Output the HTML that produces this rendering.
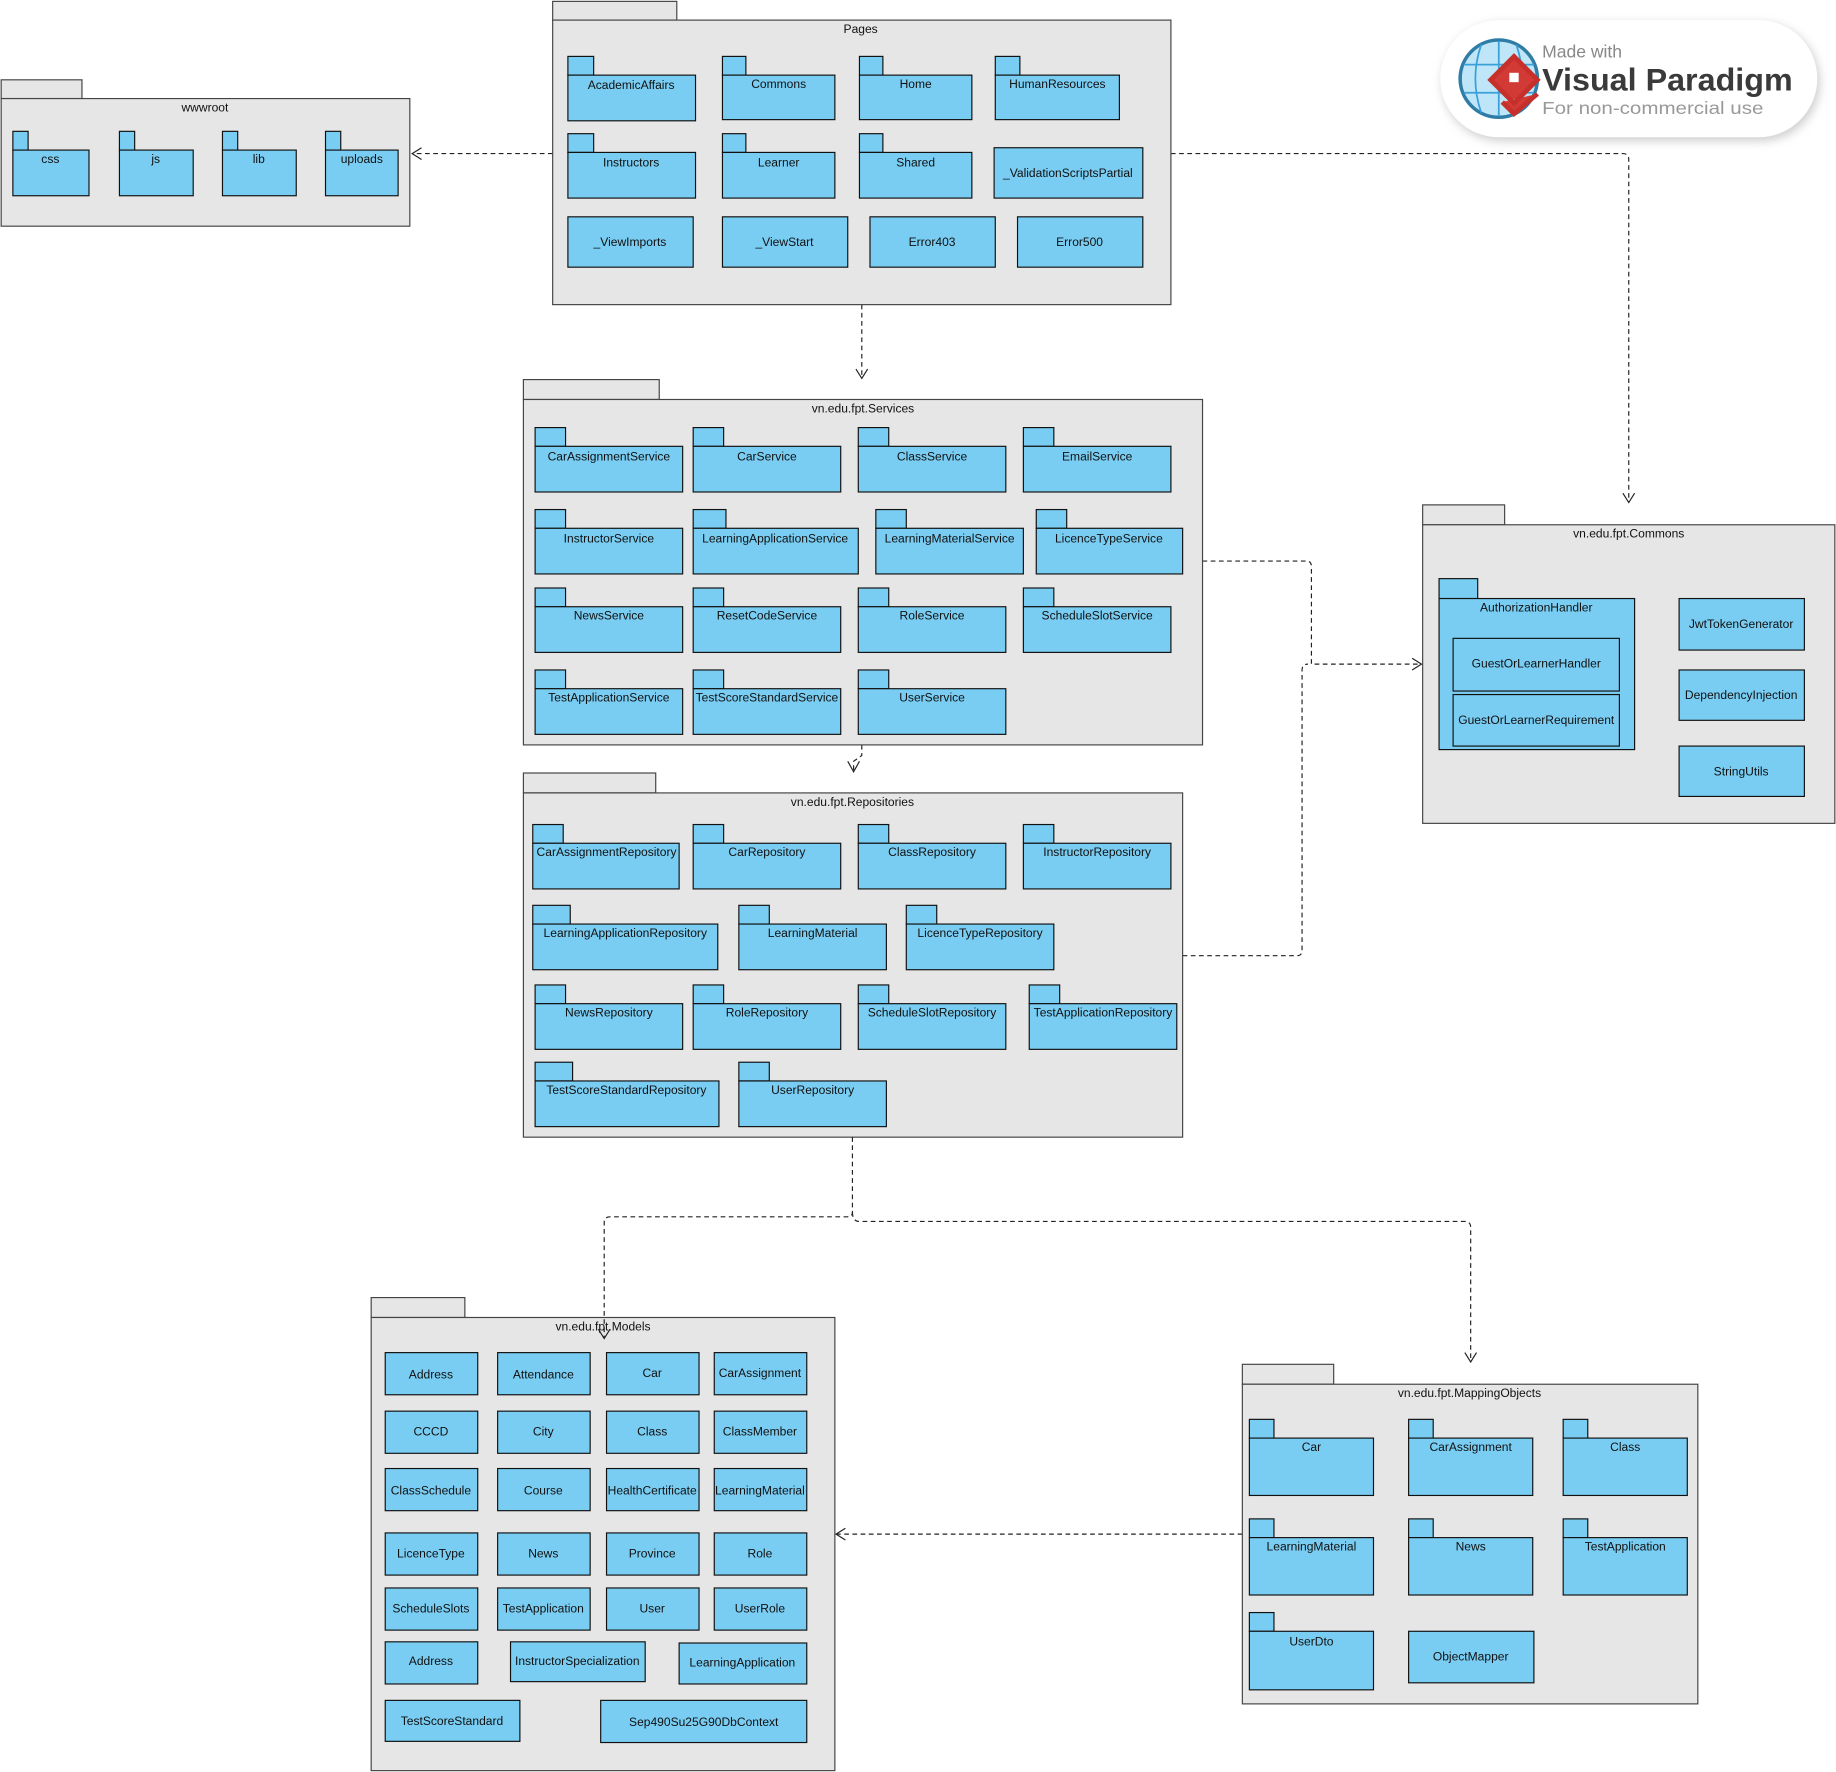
<!DOCTYPE html>
<html><head><meta charset="utf-8"><style>
html,body{margin:0;padding:0;background:#fff;}
svg{display:block;}
text{font-family:"Liberation Sans",Arial,sans-serif;font-size:10.3px;fill:#111;text-anchor:middle;}
.p{fill:#e6e6e6;stroke:#444;stroke-width:1;}
.b{fill:#79cdf2;stroke:#111;stroke-width:1;}
.d{fill:none;stroke:#222;stroke-width:1;stroke-dasharray:4,3;}
.a{fill:none;stroke:#222;stroke-width:1;}
</style></head><body>
<svg width="1836" height="1772" viewBox="0 0 1568 1513" xmlns="http://www.w3.org/2000/svg">

<!-- connectors -->
<path class="d" d="M472,131 H352"/><path class="a" d="M360,126 L352,131 L360,136"/>
<path class="d" d="M1000,131 H1386 Q1391,131 1391,136 V429"/><path class="a" d="M1386,421 L1391,429 L1396,421"/>
<path class="d" d="M736,260 V323"/><path class="a" d="M731,315 L736,323 L741,315"/>
<path class="d" d="M736,636 V645 L729,650 V659"/><path class="a" d="M724,650 L729,659 L734,650"/>
<path class="d" d="M1027,479 H1116 Q1120,479 1120,484 V567 H1214"/>
<path class="d" d="M1010,816 H1108 Q1112,816 1112,811 V572 Q1112,567 1117,567"/>
<path class="a" d="M1206,562 L1214,567 L1206,572"/>
<path class="d" d="M728,1035 Q728,1043 734,1043 H1251 Q1256,1043 1256,1048 V1163"/><path class="a" d="M1251,1155 L1256,1163 L1261,1155"/>
<path class="d" d="M1061,1310 H714"/><path class="a" d="M722,1305 L714,1310 L722,1315"/>

<!-- wwwroot -->
<rect class="p" x="1" y="68" width="69" height="16"/><rect class="p" x="1" y="84" width="349" height="109"/>
<text x="175" y="95">wwwroot</text>
<rect class="b" x="11" y="112" width="13" height="16"/><rect class="b" x="11" y="128" width="65" height="39"/><text x="43" y="139">css</text>
<rect class="b" x="102" y="112" width="13" height="16"/><rect class="b" x="102" y="128" width="63" height="39"/><text x="133" y="139">js</text>
<rect class="b" x="190" y="112" width="13" height="16"/><rect class="b" x="190" y="128" width="63" height="39"/><text x="221" y="139">lib</text>
<rect class="b" x="278" y="112" width="13" height="16"/><rect class="b" x="278" y="128" width="62" height="39"/><text x="309" y="139">uploads</text>

<!-- Pages -->
<rect class="p" x="472" y="1" width="106" height="16"/><rect class="p" x="472" y="17" width="528" height="243"/>
<text x="735" y="28">Pages</text>
<rect class="b" x="485" y="48" width="22" height="16"/><rect class="b" x="485" y="64" width="109" height="39"/><text x="539" y="76">AcademicAffairs</text>
<rect class="b" x="617" y="48" width="20" height="16"/><rect class="b" x="617" y="64" width="96" height="38"/><text x="665" y="75">Commons</text>
<rect class="b" x="734" y="48" width="20" height="16"/><rect class="b" x="734" y="64" width="96" height="38"/><text x="782" y="75">Home</text>
<rect class="b" x="850" y="48" width="21" height="16"/><rect class="b" x="850" y="64" width="106" height="38"/><text x="903" y="75">HumanResources</text>
<rect class="b" x="485" y="114" width="22" height="16"/><rect class="b" x="485" y="130" width="109" height="39"/><text x="539" y="142">Instructors</text>
<rect class="b" x="617" y="114" width="20" height="16"/><rect class="b" x="617" y="130" width="96" height="39"/><text x="665" y="142">Learner</text>
<rect class="b" x="734" y="114" width="20" height="16"/><rect class="b" x="734" y="130" width="96" height="39"/><text x="782" y="142">Shared</text>
<rect class="b" x="849" y="126" width="127" height="43"/><text x="912" y="151">_ValidationScriptsPartial</text>
<rect class="b" x="485" y="185" width="107" height="43"/><text x="538" y="210">_ViewImports</text>
<rect class="b" x="617" y="185" width="107" height="43"/><text x="670" y="210">_ViewStart</text>
<rect class="b" x="743" y="185" width="107" height="43"/><text x="796" y="210">Error403</text>
<rect class="b" x="869" y="185" width="107" height="43"/><text x="922" y="210">Error500</text>

<!-- Services -->
<rect class="p" x="447" y="324" width="116" height="17"/><rect class="p" x="447" y="341" width="580" height="295"/>
<text x="737" y="352">vn.edu.fpt.Services</text>
<g>
<rect class="b" x="457" y="365" width="26" height="16"/><rect class="b" x="457" y="381" width="126" height="39"/><text x="520" y="393">CarAssignmentService</text>
<rect class="b" x="592" y="365" width="26" height="16"/><rect class="b" x="592" y="381" width="126" height="39"/><text x="655" y="393">CarService</text>
<rect class="b" x="733" y="365" width="26" height="16"/><rect class="b" x="733" y="381" width="126" height="39"/><text x="796" y="393">ClassService</text>
<rect class="b" x="874" y="365" width="26" height="16"/><rect class="b" x="874" y="381" width="126" height="39"/><text x="937" y="393">EmailService</text>
<rect class="b" x="457" y="435" width="26" height="16"/><rect class="b" x="457" y="451" width="126" height="39"/><text x="520" y="463">InstructorService</text>
<rect class="b" x="592" y="435" width="28" height="16"/><rect class="b" x="592" y="451" width="141" height="39"/><text x="662" y="463">LearningApplicationService</text>
<rect class="b" x="748" y="435" width="26" height="16"/><rect class="b" x="748" y="451" width="126" height="39"/><text x="811" y="463">LearningMaterialService</text>
<rect class="b" x="885" y="435" width="26" height="16"/><rect class="b" x="885" y="451" width="125" height="39"/><text x="947" y="463">LicenceTypeService</text>
<rect class="b" x="457" y="502" width="26" height="16"/><rect class="b" x="457" y="518" width="126" height="39"/><text x="520" y="529">NewsService</text>
<rect class="b" x="592" y="502" width="26" height="16"/><rect class="b" x="592" y="518" width="126" height="39"/><text x="655" y="529">ResetCodeService</text>
<rect class="b" x="733" y="502" width="26" height="16"/><rect class="b" x="733" y="518" width="126" height="39"/><text x="796" y="529">RoleService</text>
<rect class="b" x="874" y="502" width="26" height="16"/><rect class="b" x="874" y="518" width="126" height="39"/><text x="937" y="529">ScheduleSlotService</text>
<rect class="b" x="457" y="572" width="26" height="16"/><rect class="b" x="457" y="588" width="126" height="39"/><text x="520" y="599">TestApplicationService</text>
<rect class="b" x="592" y="572" width="26" height="16"/><rect class="b" x="592" y="588" width="126" height="39"/><text x="655" y="599">TestScoreStandardService</text>
<rect class="b" x="733" y="572" width="26" height="16"/><rect class="b" x="733" y="588" width="126" height="39"/><text x="796" y="599">UserService</text>
</g>

<!-- Repositories -->
<rect class="p" x="447" y="660" width="113" height="17"/><rect class="p" x="447" y="677" width="563" height="294"/>
<text x="728" y="688">vn.edu.fpt.Repositories</text>
<rect class="b" x="455" y="704" width="26" height="16"/><rect class="b" x="455" y="720" width="125" height="39"/><text x="518" y="731">CarAssignmentRepository</text>
<rect class="b" x="592" y="704" width="26" height="16"/><rect class="b" x="592" y="720" width="126" height="39"/><text x="655" y="731">CarRepository</text>
<rect class="b" x="733" y="704" width="26" height="16"/><rect class="b" x="733" y="720" width="126" height="39"/><text x="796" y="731">ClassRepository</text>
<rect class="b" x="874" y="704" width="26" height="16"/><rect class="b" x="874" y="720" width="126" height="39"/><text x="937" y="731">InstructorRepository</text>
<rect class="b" x="455" y="773" width="32" height="16"/><rect class="b" x="455" y="789" width="158" height="39"/><text x="534" y="800">LearningApplicationRepository</text>
<rect class="b" x="631" y="773" width="26" height="16"/><rect class="b" x="631" y="789" width="126" height="39"/><text x="694" y="800">LearningMaterial</text>
<rect class="b" x="774" y="773" width="26" height="16"/><rect class="b" x="774" y="789" width="126" height="39"/><text x="837" y="800">LicenceTypeRepository</text>
<rect class="b" x="457" y="841" width="26" height="16"/><rect class="b" x="457" y="857" width="126" height="39"/><text x="520" y="868">NewsRepository</text>
<rect class="b" x="592" y="841" width="26" height="16"/><rect class="b" x="592" y="857" width="126" height="39"/><text x="655" y="868">RoleRepository</text>
<rect class="b" x="733" y="841" width="26" height="16"/><rect class="b" x="733" y="857" width="126" height="39"/><text x="796" y="868">ScheduleSlotRepository</text>
<rect class="b" x="879" y="841" width="26" height="16"/><rect class="b" x="879" y="857" width="126" height="39"/><text x="942" y="868">TestApplicationRepository</text>
<rect class="b" x="457" y="907" width="32" height="16"/><rect class="b" x="457" y="923" width="157" height="39"/><text x="535" y="934">TestScoreStandardRepository</text>
<rect class="b" x="631" y="907" width="26" height="16"/><rect class="b" x="631" y="923" width="126" height="39"/><text x="694" y="934">UserRepository</text>

<!-- Commons -->
<rect class="p" x="1215" y="431" width="70" height="17"/><rect class="p" x="1215" y="448" width="352" height="255"/>
<text x="1391" y="459">vn.edu.fpt.Commons</text>
<rect class="b" x="1229" y="494" width="33" height="17"/><rect class="b" x="1229" y="511" width="167" height="129"/><text x="1312" y="522">AuthorizationHandler</text>
<rect class="b" x="1241" y="545" width="142" height="45"/><text x="1312" y="570">GuestOrLearnerHandler</text>
<rect class="b" x="1241" y="593" width="142" height="44"/><text x="1312" y="618">GuestOrLearnerRequirement</text>
<rect class="b" x="1434" y="511" width="107" height="44"/><text x="1487" y="536">JwtTokenGenerator</text>
<rect class="b" x="1434" y="572" width="107" height="43"/><text x="1487" y="597">DependencyInjection</text>
<rect class="b" x="1434" y="637" width="107" height="43"/><text x="1487" y="662">StringUtils</text>

<!-- Models -->
<rect class="p" x="317" y="1108" width="80" height="17"/><rect class="p" x="317" y="1125" width="396" height="387"/>
<text x="515" y="1136">vn.edu.fpt.Models</text>
<g>
<rect class="b" x="329" y="1155" width="79" height="36"/><text x="368" y="1177">Address</text>
<rect class="b" x="425" y="1155" width="79" height="36"/><text x="464" y="1177">Attendance</text>
<rect class="b" x="518" y="1155" width="79" height="36"/><text x="557" y="1176">Car</text>
<rect class="b" x="610" y="1155" width="79" height="36"/><text x="649" y="1176">CarAssignment</text>
<rect class="b" x="329" y="1205" width="79" height="36"/><text x="368" y="1226">CCCD</text>
<rect class="b" x="425" y="1205" width="79" height="36"/><text x="464" y="1226">City</text>
<rect class="b" x="518" y="1205" width="79" height="36"/><text x="557" y="1226">Class</text>
<rect class="b" x="610" y="1205" width="79" height="36"/><text x="649" y="1226">ClassMember</text>
<rect class="b" x="329" y="1254" width="79" height="36"/><text x="368" y="1276">ClassSchedule</text>
<rect class="b" x="425" y="1254" width="79" height="36"/><text x="464" y="1276">Course</text>
<rect class="b" x="518" y="1254" width="79" height="36"/><text x="557" y="1276">HealthCertificate</text>
<rect class="b" x="610" y="1254" width="79" height="36"/><text x="649" y="1276">LearningMaterial</text>
<rect class="b" x="329" y="1309" width="79" height="36"/><text x="368" y="1330">LicenceType</text>
<rect class="b" x="425" y="1309" width="79" height="36"/><text x="464" y="1330">News</text>
<rect class="b" x="518" y="1309" width="79" height="36"/><text x="557" y="1330">Province</text>
<rect class="b" x="610" y="1309" width="79" height="36"/><text x="649" y="1330">Role</text>
<rect class="b" x="329" y="1356" width="79" height="36"/><text x="368" y="1377">ScheduleSlots</text>
<rect class="b" x="425" y="1356" width="79" height="36"/><text x="464" y="1377">TestApplication</text>
<rect class="b" x="518" y="1356" width="79" height="36"/><text x="557" y="1377">User</text>
<rect class="b" x="610" y="1356" width="79" height="36"/><text x="649" y="1377">UserRole</text>
<rect class="b" x="329" y="1402" width="79" height="36"/><text x="368" y="1422">Address</text>
<rect class="b" x="436" y="1402" width="115" height="34"/><text x="493" y="1422">InstructorSpecialization</text>
<rect class="b" x="580" y="1403" width="109" height="35"/><text x="634" y="1423">LearningApplication</text>
<rect class="b" x="329" y="1452" width="115" height="35"/><text x="386" y="1473">TestScoreStandard</text>
<rect class="b" x="513" y="1452" width="176" height="36"/><text x="601" y="1474">Sep490Su25G90DbContext</text>
</g>
<!-- Repos -> Models (drawn over package) -->
<path class="d" d="M728,971 V1035 Q728,1039 724,1039 H521 Q516,1039 516,1044 V1143"/><path class="a" d="M511,1135 L516,1143 L521,1135"/>

<!-- MappingObjects -->
<rect class="p" x="1061" y="1165" width="78" height="17"/><rect class="p" x="1061" y="1182" width="389" height="273"/>
<text x="1255" y="1193">vn.edu.fpt.MappingObjects</text>
<rect class="b" x="1067" y="1212" width="21" height="16"/><rect class="b" x="1067" y="1228" width="106" height="49"/><text x="1120" y="1239">Car</text>
<rect class="b" x="1203" y="1212" width="21" height="16"/><rect class="b" x="1203" y="1228" width="106" height="49"/><text x="1256" y="1239">CarAssignment</text>
<rect class="b" x="1335" y="1212" width="21" height="16"/><rect class="b" x="1335" y="1228" width="106" height="49"/><text x="1388" y="1239">Class</text>
<rect class="b" x="1067" y="1297" width="21" height="16"/><rect class="b" x="1067" y="1313" width="106" height="49"/><text x="1120" y="1324">LearningMaterial</text>
<rect class="b" x="1203" y="1297" width="21" height="16"/><rect class="b" x="1203" y="1313" width="106" height="49"/><text x="1256" y="1324">News</text>
<rect class="b" x="1335" y="1297" width="21" height="16"/><rect class="b" x="1335" y="1313" width="106" height="49"/><text x="1388" y="1324">TestApplication</text>
<rect class="b" x="1067" y="1377" width="21" height="16"/><rect class="b" x="1067" y="1393" width="106" height="50"/><text x="1120" y="1405">UserDto</text>
<rect class="b" x="1203" y="1393" width="107" height="44"/><text x="1256" y="1418">ObjectMapper</text>

<!-- watermark -->
<defs><filter id="sh" x="-10%" y="-20%" width="120%" height="140%"><feGaussianBlur stdDeviation="4"/></filter></defs>
<rect x="1232" y="20" width="322" height="100" rx="50" fill="#ccc" filter="url(#sh)"/>
<rect x="1230" y="17" width="322" height="100" rx="50" fill="#fff"/>
<circle cx="1280" cy="67" r="33" fill="#bfe6f8" stroke="#2f7da6" stroke-width="3"/>
<path d="M1250,55 H1310 M1250,79 H1310 M1280,35 V99 M1265,38 Q1255,67 1265,96 M1295,38 Q1305,67 1295,96" stroke="#3aa0d8" stroke-width="1.5" fill="none"/>
<path d="M1293,48 L1313,68 L1293,88 L1273,68 Z M1283,87 L1293,97 L1313,80" fill="#d23a35" stroke="#c62f2a" stroke-width="4"/>
<rect x="1289" y="62" width="8" height="8" fill="#fff"/>
<text x="1317" y="49" style="text-anchor:start;font-size:15px;fill:#888;">Made with</text>
<text x="1317" y="77" textLength="214" lengthAdjust="spacingAndGlyphs" style="text-anchor:start;font-size:27px;font-weight:bold;fill:#3a3a3a;">Visual Paradigm</text>
<text x="1317" y="97" textLength="189" lengthAdjust="spacingAndGlyphs" style="text-anchor:start;font-size:15px;fill:#999;">For non-commercial use</text>
</svg>
</body></html>
